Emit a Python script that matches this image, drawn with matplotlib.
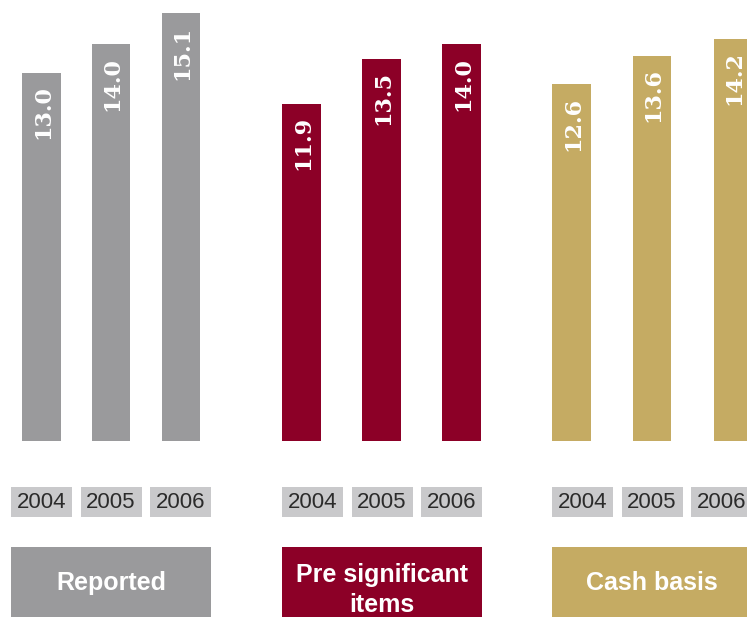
import matplotlib
matplotlib.use("Agg")
import matplotlib.pyplot as plt
from matplotlib.patches import Rectangle
from matplotlib.font_manager import FontProperties

# Data
groups = ["Reported", "Pre significant\nitems", "Cash basis"]
years = ["2004", "2005", "2006"]
reported = [13.0, 14.0, 15.1]
pre_significant = [11.9, 13.5, 14.0]
cash_basis = [12.6, 13.6, 14.2]
series = [reported, pre_significant, cash_basis]

# Styling
colors = ["#9a9a9c", "#8c0027", "#c5ab63"]
year_box_color = "#c9c9cb"
year_text_color = "#2b2b2b"
value_font = FontProperties(family=["DejaVu Serif"], weight="bold", size=16)

W, H = 747, 617
fig = plt.figure(figsize=(W / 100, H / 100), dpi=100)

# Layout (pixels)
group_left = [11, 282, 552]
group_width = 200
bar_offsets = [[30.5, 100, 170], [19.5, 99.5, 179.5], [19.5, 100, 181]]
bar_width = 38.5
baseline_px = 441
px_per_unit = 28.33

# Bar axes: x in pixels, y in data units
ax = fig.add_axes([0, (H - baseline_px) / H, 1, baseline_px / H])
ax.set_xlim(0, W)
ax.set_ylim(0, baseline_px / px_per_unit)
ax.axis("off")

for g, vals in enumerate(series):
    xs = [group_left[g] + off for off in bar_offsets[g]]
    ax.bar(xs, vals, width=bar_width, color=colors[g], linewidth=0)
    for x, v in zip(xs, vals):
        ax.annotate(f"{v:.1f}", xy=(x, v), xytext=(1, -9),
                    textcoords="offset points", rotation=90,
                    rotation_mode="anchor", ha="right", va="center",
                    color="white", fontproperties=value_font)

# Overlay axes for year tags and group titles (pixel coordinates, y downwards)
ov = fig.add_axes([0, 0, 1, 1])
ov.set_xlim(0, W)
ov.set_ylim(H, 0)
ov.axis("off")

year_box_w, year_gap = 61, 8.5
for g in range(3):
    for i, yr in enumerate(years):
        x0 = group_left[g] + i * (year_box_w + year_gap)
        ov.add_patch(Rectangle((x0, 487), year_box_w, 30,
                               facecolor=year_box_color, edgecolor="none"))
        ov.text(x0 + year_box_w / 2, 502.5, yr, ha="center", va="center",
                fontsize=16, color=year_text_color, family="Liberation Sans")
    ov.add_patch(Rectangle((group_left[g], 547), group_width, 80,
                           facecolor=colors[g], edgecolor="none"))
    ty = 590 if "\n" in groups[g] else 583
    ov.text(group_left[g] + group_width / 2, ty, groups[g], ha="center",
            va="center", fontsize=18, fontweight="bold", color="white",
            family="Liberation Sans", linespacing=1.3)

fig.savefig("out.png", dpi=100)
